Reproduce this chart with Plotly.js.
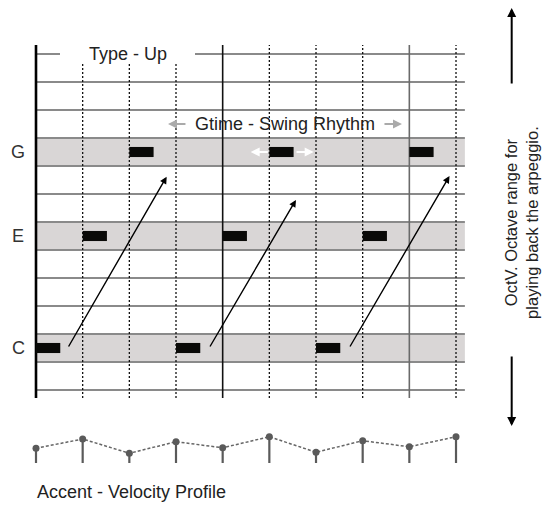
<!DOCTYPE html>
<html>
<head>
<meta charset="utf-8">
<script src="https://cdn.plot.ly/plotly-3.0.1.min.js"></script>
<style>html,body{margin:0;padding:0;background:#fff}#chart{width:543px;height:506px}</style>
</head>
<body>
<div id="chart"></div>
<script>
// ---- data ----
const steps = [0, 1, 2, 3, 4, 5, 6, 7, 8, 9];
const noteNames = ['C', 'E', 'G', 'C', 'E', 'G', 'C', 'E', 'G'];
const noteSteps = [0, 1, 2, 3, 4, 5, 6, 7, 8];
const noteLengths = [0.52, 0.52, 0.52, 0.52, 0.52, 0.52, 0.52, 0.52, 0.52];
const rowLabels = ['C', 'E', 'G'];
const rowPitches = [0, 4, 7];
const velocity = [59, 96, 39, 85, 61, 105, 43, 89, 65, 105];
const arrowFromX = [0.68, 3.71, 6.71];
const arrowFromY = [0, 0, 0];
const arrowToX = [2.80, 5.57, 8.86];
const arrowToY = [6.12, 5.29, 6.14];
const lowPitch = -1, highPitch = 10;

const pitchOf = {};
rowLabels.forEach((n, i) => pitchOf[n] = rowPitches[i]);
const notePitches = noteNames.map(n => pitchOf[n]);

const FONT = 'Liberation Sans, Arial, sans-serif';
const xEnd = 9.19;

// ---- shapes ----
const shapes = [];
rowPitches.forEach(p => shapes.push({type:'rect', layer:'below', xref:'x', yref:'y',
  x0:0, x1:xEnd, y0:p-0.5, y1:p+0.5, fillcolor:'#d9d6d6', line:{width:0}}));
for (let p = lowPitch - 0.5; p <= highPitch + 0.5; p += 1) {
  shapes.push({type:'line', layer:'below', xref:'x', yref:'y', x0:0, x1:xEnd, y0:p, y1:p,
    line:{color:'#8a8a8a', width:1.8}});
}
steps.forEach(s => {
  const solid = s % 4 === 0;
  shapes.push({type:'line', layer:'below', xref:'x', yref:'y', x0:s, x1:s, y0:-1.786, y1:10.82,
    line:{color: s === 0 ? '#000' : (s === 8 ? '#6a6a6a' : '#111'),
          width: s === 0 ? 2.6 : (solid ? 1.6 : 1.3), dash: solid ? 'solid' : '2px,2px'}});
});
// white mask behind "Type - Up"
shapes.push({type:'rect', layer:'below', xref:'x', yref:'y', x0:0.514, x1:3.407, y0:10.18, y1:10.9,
  fillcolor:'#fff', line:{width:0}});

// ---- annotations ----
const annotations = [];
rowLabels.forEach((n, i) => annotations.push({xref:'x', yref:'y', x:-0.38, y:rowPitches[i], text:n,
  showarrow:false, font:{family:FONT, size:18, color:'#333'}}));
annotations.push({xref:'x', yref:'y', x:1.971, y:10.5, text:'Type - Up', showarrow:false,
  font:{family:FONT, size:18, color:'#222'}});
annotations.push({xref:'x', yref:'y', x:5.325, y:8.0, text:'Gtime - Swing Rhythm', showarrow:false,
  font:{family:FONT, size:18, color:'#222'}});
annotations.push({xref:'x', yref:'y', x:-0.021, y:-5.143, xanchor:'left', text:'Accent - Velocity Profile',
  showarrow:false, font:{family:FONT, size:18, color:'#222'}});
annotations.push({xref:'x', yref:'y', x:10.39, y:4.5, textangle:-90,
  text:'OctV. Octave range for<br>playing back the arpeggio.', showarrow:false,
  font:{family:FONT, size:16.5, color:'#222'}});
function arrow(x0, y0, x1, y1, color, w, size) {
  annotations.push({xref:'x', yref:'y', axref:'x', ayref:'y', x:x1, y:y1, ax:x0, ay:y0, text:'',
    showarrow:true, arrowhead:2, arrowsize:size, arrowwidth:w, arrowcolor:color, standoff:0, startstandoff:0});
}
arrowFromX.forEach((x, i) => arrow(x, arrowFromY[i], arrowToX[i], arrowToY[i], '#000', 1.4, 1));
arrow(3.235, 8, 2.828, 8, '#aaa', 2, 0.9);
arrow(7.435, 8, 7.842, 8, '#aaa', 2, 0.9);
arrow(5.0, 7, 4.6, 7, '#fff', 2, 0.9);
arrow(5.55, 7, 5.95, 7, '#fff', 2, 0.9);
arrow(10.193, 9.393, 10.193, 12.143, '#000', 2, 0.9);
arrow(10.193, -0.25, 10.193, -2.786, '#000', 2, 0.9);

// ---- traces ----
const notes = {type:'bar', orientation:'h', x:noteLengths, base:noteSteps, y:notePitches, width:0.36,
  marker:{color:'#0a0a08', line:{width:0}}, hoverinfo:'skip'};
const vel = {type:'scatter', mode:'lines+markers', x:steps, y:velocity, yaxis:'y2',
  line:{color:'#666', width:1.5, dash:'3px,2px'},
  marker:{color:'#5a5a5a', size:7},
  error_y:{type:'data', symmetric:false, array:steps.map(() => 0), arrayminus:velocity,
    width:0, thickness:2.2, color:'#5a5a5a'},
  hoverinfo:'skip', cliponaxis:false};

const layout = {
  width:543, height:506, margin:{l:0, r:0, t:0, b:0},
  paper_bgcolor:'#fff', plot_bgcolor:'rgba(0,0,0,0)', showlegend:false, hovermode:false,
  xaxis:{range:[-0.7714, 10.864], visible:false, showgrid:false, zeroline:false, fixedrange:true},
  yaxis:{range:[-5.643, 12.4286], visible:false, showgrid:false, zeroline:false, fixedrange:true},
  yaxis2:{range:[-172, 1852], overlaying:'y', visible:false, showgrid:false, zeroline:false, fixedrange:true},
  shapes:shapes, annotations:annotations
};
Plotly.newPlot('chart', [notes, vel], layout, {staticPlot:true, displayModeBar:false});
</script>
</body>
</html>
